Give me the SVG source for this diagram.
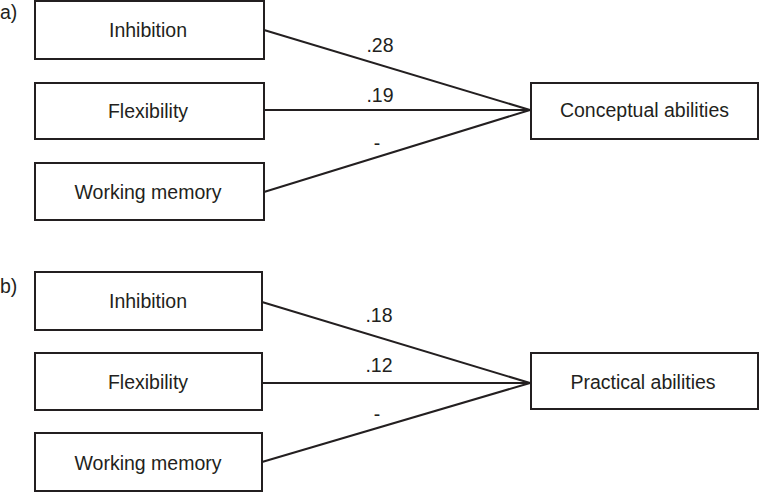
<svg xmlns="http://www.w3.org/2000/svg" width="759" height="493" viewBox="0 0 759 493">
<style>
.box{fill:#fff;stroke:#231f20;stroke-width:2}
.t{font-family:"Liberation Sans",Arial,sans-serif;font-size:19.5px;fill:#231f20;text-anchor:middle}
.p{font-family:"Liberation Sans",Arial,sans-serif;font-size:19.5px;fill:#231f20}
.c line{stroke:#231f20;stroke-width:2}
</style>
<rect width="759" height="493" fill="#fff"/>
<text class="p" x="0" y="19">a)</text>
<text class="p" x="0" y="293">b)</text>
<g class="c" id="connectors">
<line x1="264" y1="30" x2="530" y2="110"/>
<line x1="264" y1="110" x2="530" y2="110"/>
<line x1="264" y1="192" x2="530" y2="110"/>
<line x1="262" y1="302" x2="530" y2="383"/>
<line x1="262" y1="383" x2="530" y2="383"/>
<line x1="262" y1="462" x2="530" y2="383"/>
<text class="t" x="380" y="52">.28</text>
<text class="t" x="380" y="102">.19</text>
<text class="t" x="377" y="150">-</text>
<text class="t" x="379" y="322">.18</text>
<text class="t" x="379" y="372">.12</text>
<text class="t" x="377" y="421">-</text>
</g>
<g id="a_inhibition"><rect class="box" x="35" y="1" width="229" height="58"/><text class="t" x="148" y="37">Inhibition</text></g>
<g id="a_flexibility"><rect class="box" x="35" y="83" width="229" height="56"/><text class="t" x="148" y="118">Flexibility</text></g>
<g id="a_working"><rect class="box" x="35" y="163" width="229" height="57"/><text class="t" x="148" y="199">Working memory</text></g>
<g id="a_conceptual"><rect class="box" x="531" y="83" width="227" height="56"/><text class="t" x="644.5" y="117">Conceptual abilities</text></g>
<g id="b_inhibition"><rect class="box" x="35" y="272" width="227" height="58"/><text class="t" x="148" y="308">Inhibition</text></g>
<g id="b_flexibility"><rect class="box" x="35" y="353" width="227" height="57"/><text class="t" x="148" y="389">Flexibility</text></g>
<g id="b_working"><rect class="box" x="35" y="433" width="227" height="58"/><text class="t" x="148" y="470">Working memory</text></g>
<g id="b_practical"><rect class="box" x="531" y="353" width="227" height="56"/><text class="t" x="643" y="389">Practical abilities</text></g>
</svg>
